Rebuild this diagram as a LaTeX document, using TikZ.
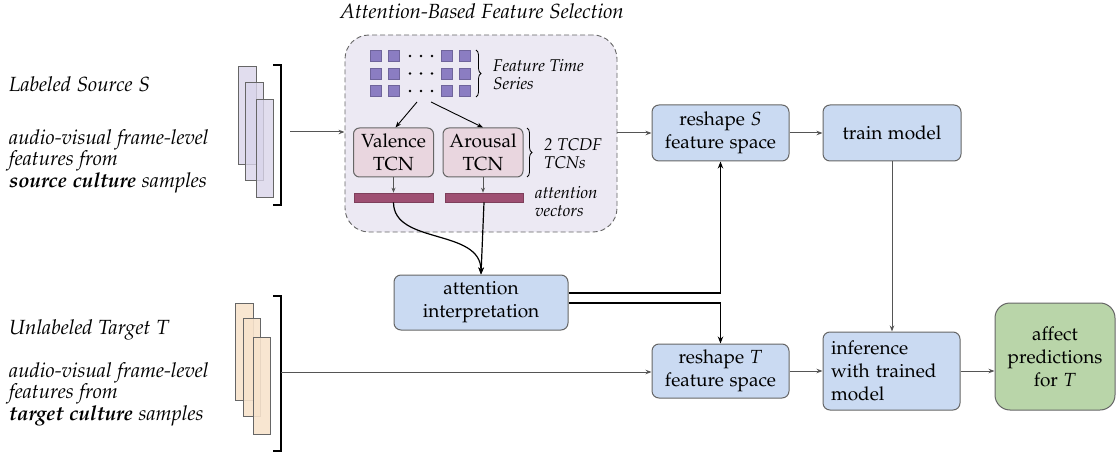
\documentclass[tikz,border=0pt]{standalone}
\usepackage[T1]{fontenc}
\usepackage[sc]{mathpazo}
\usetikzlibrary{arrows.meta,decorations.pathreplacing,calc}
\definecolor{boxblue}{HTML}{CADAF2}
\definecolor{boxgreen}{HTML}{B9D5A9}
\definecolor{tcnpink}{HTML}{E9D6DF}
\definecolor{barred}{HTML}{9E4F72}
\definecolor{sqpurple}{HTML}{8B7DC2}
\definecolor{dashfill}{HTML}{ECE9F3}
\definecolor{lav}{HTML}{D9D4EA}
\definecolor{peach}{HTML}{F7E3CC}
\definecolor{edge}{HTML}{666666}
\definecolor{arrgray}{HTML}{555555}
\newcommand\mfs{\fontsize{19}{23}\selectfont}
\newcommand\lfs{\fontsize{20.5}{21.5}\selectfont}
\newcommand\sfs{\fontsize{17}{18}\selectfont}
\begin{document}
\begin{tikzpicture}[x=1pt,y=-1pt,
  box/.style={draw=edge,line width=1pt,rounded corners=7pt,fill=boxblue,align=center,font=\mfs,inner sep=0pt},
  tcn/.style={draw=edge,line width=1pt,rounded corners=6pt,fill=tcnpink,align=center,font=\mfs,inner sep=0pt,minimum width=80pt,minimum height=49pt},
  bar/.style={draw=barred!80!black,line width=0.6pt,fill=barred,inner sep=0pt,minimum height=9pt},
  sq/.style={draw=sqpurple!80!black,line width=0.4pt,fill=sqpurple,inner sep=0pt,minimum size=11pt},
  garr/.style={draw=arrgray,line width=1pt,-{Stealth[length=6pt,width=4.5pt]}},
  sarr/.style={draw=arrgray,line width=0.8pt,-{Stealth[length=5pt,width=4pt]}},
  barr/.style={draw=black,line width=1.2pt,-{Stealth[length=7pt,width=5.5pt]}},
  lab/.style={font=\lfs\itshape,anchor=base west,inner sep=0pt,align=left},
  labm/.style={font=\lfs\itshape,anchor=north west,inner sep=0pt,align=left},
  small/.style={font=\sfs\itshape,anchor=west,inner sep=0pt,align=left},
  brk/.style={draw=black,line width=1.4pt},
  brace/.style={draw=black,line width=0.8pt,decorate,decoration={brace,amplitude=5pt}},
  stackS/.style={draw=edge,line width=0.7pt,fill=lav,fill opacity=0.8},
  stackT/.style={draw=edge,line width=0.7pt,fill=peach,fill opacity=0.9}]
\useasboundingbox (0,0) rectangle (1116,457);

% ---- left labels
\node[lab] (srcT) at (9,92) {Labeled Source $S$};
\node[labm] (srcD) at (9,129) {audio-visual frame-level\\features from\\\textbf{source culture} samples};
\node[lab] (tgtT) at (9,334) {Unlabeled Target $T$};
\node[labm] (tgtD) at (9,362) {audio-visual frame-level\\features from\\\textbf{target culture} samples};

% ---- source stack
\draw[stackS] (238,66) rectangle (256,164);
\draw[stackS] (245,82) rectangle (263,180);
\draw[stackS] (256,99) rectangle (273,197);
\draw[brk] (273,65) -- (281,65) -- (281,205) -- (273,205);
\coordinate (srcOut) at (290,132);

% ---- target stack
\draw[stackT] (235,303) rectangle (253,400);
\draw[stackT] (243,318) rectangle (260,416);
\draw[stackT] (253,337) rectangle (270,434);
\draw[brk] (273,296) -- (281,296) -- (281,451) -- (273,451);
\coordinate (tgtOut) at (281,372);

% ---- attention-based feature selection
\node[font=\lfs\itshape,anchor=base,inner sep=0pt] (fsT) at (482,19) {Attention-Based Feature Selection};
\node[draw=edge,dashed,dash pattern=on 5pt off 3pt,line width=0.9pt,rounded corners=24pt,fill=dashfill,minimum width=272pt,minimum height=197pt,inner sep=0pt] (fs) at (481,133.5) {};

\foreach \r/\y in {1/56,2/73.5,3/91}{
  \foreach \c/\x in {1/375.5,2/393.5,3/446.5,4/464.5}{
    \node[sq] (sq\r\c) at (\x,\y) {};
  }
  \foreach \dx in {410,421,432}{\fill (\dx,\y) circle (1.4pt);}
}
\draw[brace] (476,50) -- (476,97);
\node[small] (fts) at (493,74) {Feature Time\\Series};

\node[tcn] (val) at (393.5,152.5) {Valence\\TCN};
\node[tcn] (aro) at (483,152.5) {Arousal\\TCN};
\draw[brace] (527,128) -- (527,177);
\node[small] (tcdf) at (544,154) {2 TCDF\\TCNs};

\node[bar,minimum width=79pt] (vbar) at (393.5,197.5) {};
\node[bar,minimum width=78pt] (abar) at (484,197.5) {};
\node[small] (av) at (535,201) {attention\\vectors};

\coordinate (gL) at (417,102);
\coordinate (gR) at (431,102);
\draw[draw=black,line width=0.9pt,-{Stealth[length=6pt,width=4.5pt]}] (gL) -- ($(val.north)+(2,0)$);
\draw[draw=black,line width=0.9pt,-{Stealth[length=6pt,width=4.5pt]}] (gR) -- (val.north -| aro.north);
\draw[sarr] (val.south) -- (val.south |- vbar.north);
\draw[sarr] (aro.south) -- (aro.south |- abar.north);

% ---- main boxes
\node[box,minimum width=174pt,minimum height=55pt] (ai) at (481,302.5) {attention\\interpretation};
\node[box,minimum width=137pt,minimum height=56pt] (rS) at (720.5,133) {reshape $S$\\feature space};
\node[box,minimum width=138pt,minimum height=56pt] (tm) at (892,133) {train model};
\node[box,minimum width=137pt,minimum height=54pt] (rT) at (720.5,371) {reshape $T$\\feature space};
\node[box,minimum width=137pt,minimum height=78pt,text width=121pt,align=left] (inf) at (891.5,371) {inference\\with trained\\model};
\node[box,fill=boxgreen,rounded corners=15pt,minimum width=120pt,minimum height=107pt] (aff) at (1055,356.5) {affect\\predictions\\for $T$};

% ---- connectors
\draw[garr] (srcOut) -- (srcOut -| fs.west);
\draw[garr] (fs.east |- rS.west) -- (rS.west);
\draw[garr] (rS.east) -- (tm.west);
\draw[garr] (tm.south) -- (tm.south |- inf.north);
\draw[garr] (tgtOut) -- (tgtOut -| rT.west);
\draw[garr] (rT.east) -- (rT.east -| inf.west);
\draw[garr] (inf.east) -- (inf.east -| aff.west);

\draw[barr] (vbar.south) .. controls (393.5,245) and (481,228) .. (ai.north);
\draw[barr] (abar.south) -- (ai.north);
\draw[barr] ([yshift=9.5pt]ai.east) -| (rS.south);
\draw[barr] ([yshift=-0.5pt]ai.east) -| (rT.north);
\end{tikzpicture}
\end{document}
